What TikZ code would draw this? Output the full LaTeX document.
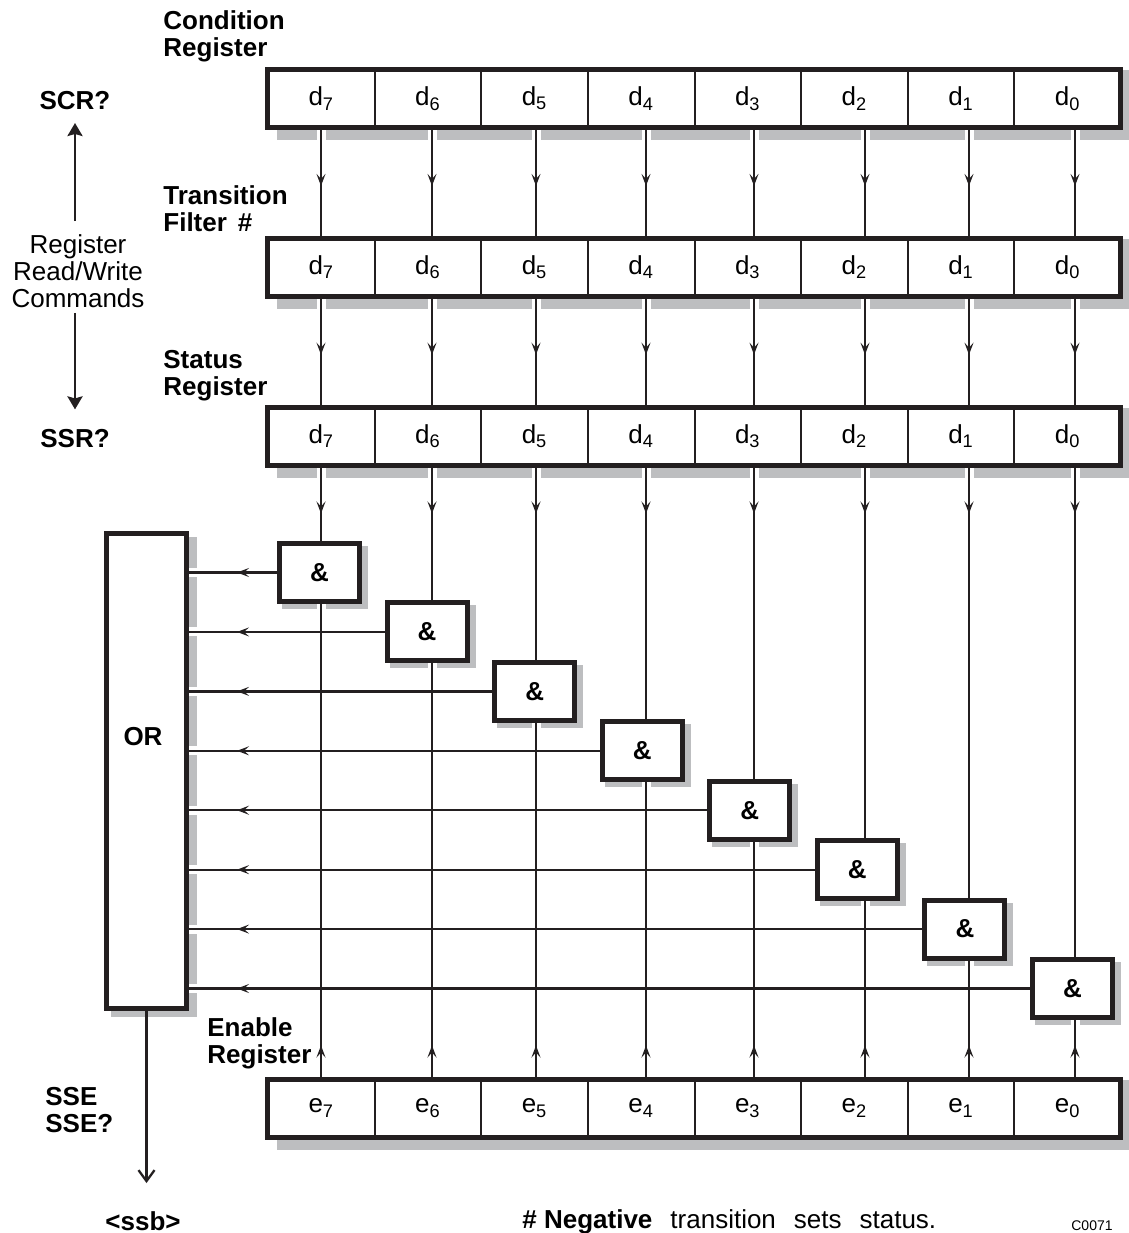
\documentclass[tikz,border=0pt]{standalone}
\usepackage{fontspec}
\setmainfont{Liberation Sans}
\usetikzlibrary{arrows.meta,decorations.markings}
\pgfdeclarelayer{shadowlayer}
\pgfdeclarelayer{halolayer}
\pgfsetlayers{shadowlayer,halolayer,main}
\definecolor{ink}{RGB}{35,31,32}
\definecolor{shadowgray}{RGB}{189,190,192}
\newcommand\mainsize{\fontsize{13}{13.5}\selectfont}
\tikzset{
  regbox/.style={draw=ink, line width=2.5pt, fill=white, minimum width=426.5pt, minimum height=29pt, inner sep=0pt},
  cellbox/.style={draw=ink, line width=1pt, minimum width=53.3125pt, minimum height=29pt, inner sep=0pt},
  gatebox/.style={draw=ink, line width=2.5pt, fill=white, minimum width=40pt, minimum height=29pt, inner sep=0pt, font=\mainsize\bfseries},
  orbox/.style={draw=ink, line width=2.5pt, fill=white, minimum width=40pt, minimum height=237.5pt, inner sep=0pt},
  conn/.style={draw=ink, line width=1.15pt},
  halo/.style={draw=white, line width=4.5pt},
  bigconn/.style={draw=ink, line width=1.3pt},
  midarrow/.style={postaction={decorate}, decoration={markings, mark=at position #1 with {\arrow{Stealth[length=6pt,width=4.5pt,inset=2.5pt]}}}},
  lbl/.style={anchor=north west, inner sep=0pt, align=left, font=\mainsize\bfseries},
  txt/.style={inner sep=0pt}
}
\begin{document}
\begin{tikzpicture}[x=0.5pt,y=-0.5pt, font=\mainsize]
\useasboundingbox (0,0) rectangle (1129,1233);
% registers
\node[regbox] (r1) at (694,98.5) {};
\node[regbox] (r2) at (694,267) {};
\node[regbox] (r3) at (694,436) {};
\node[regbox] (r4) at (694,1108) {};
\foreach \r/\c/\y in {r1/d/98.5, r2/d/267, r3/d/436, r4/e/1108} {
  \foreach \j in {0,...,7} {
    \pgfmathtruncatemacro\b{7-\j}
    \node[cellbox] (\r c\b) at ({321.3125+106.625*\j},\y) {\c\textsubscript{\b}};
  }
}
% gates
\foreach \j in {0,...,7} {
  \pgfmathtruncatemacro\b{7-\j}
  \node[gatebox] (g\b) at ({319.5+107.57*\j},{572.5+59.43*\j}) {\&};
}
\node[orbox] (orb) at (146.5,771) {};
\node[txt, font=\mainsize\bfseries] (ortxt) at (143,737) {OR};
% line positions
\foreach \b/\lx in {7/321,6/432,5/536,4/646,3/754,2/865,1/969,0/1075}
  \coordinate (L\b) at (\lx,0);
% shadows
\begin{pgfonlayer}{shadowlayer}
\foreach \n in {r1,r2,r3,r4}
  \fill[shadowgray] ([shift={(12,10)}]\n.south west) rectangle ([shift={(8,3)}]\n.north east);
\foreach \b in {0,...,7}
  \fill[shadowgray] ([shift={(5,5)}]g\b.south west) rectangle ([shift={(6,5)}]g\b.north east);
\fill[shadowgray] ([shift={(7,6)}]orb.south west) rectangle ([shift={(8,6)}]orb.north east);
\end{pgfonlayer}
% halos
\begin{pgfonlayer}{halolayer}
\foreach \b in {0,...,7} {
  \draw[halo] (L\b |- r1.south) -- (L\b |- r2.north);
  \draw[halo] (L\b |- r2.south) -- (L\b |- r3.north);
  \draw[halo] (L\b |- r3.south) -- (L\b |- g\b.north);
  \draw[halo] (L\b |- r4.north) -- (L\b |- g\b.south);
  \draw[halo] (g\b.west) -- (g\b.west -| orb.east);
}
\end{pgfonlayer}
% connectors
\foreach \b in {0,...,7} {
  \draw[conn, midarrow=0.53] (L\b |- r1.south) -- (L\b |- r2.north);
  \draw[conn, midarrow=0.53] (L\b |- r2.south) -- (L\b |- r3.north);
  \draw[conn, midarrow=23pt] (L\b |- r3.south) -- (L\b |- g\b.north);
  \draw[conn, midarrow=15.5pt] (L\b |- r4.north) -- (L\b |- g\b.south);
  \draw[conn, midarrow=-24pt] (g\b.west) -- (g\b.west -| orb.east);
}
% left side
\node[txt, font=\mainsize\bfseries] (scr) at (75,101) {SCR?};
\node[txt, align=center] (rrw) at (78,271) {Register\\Read/Write\\Commands};
\node[txt, font=\mainsize\bfseries] (ssr) at (75,439) {SSR?};
\draw[bigconn, -{Stealth[length=6.5pt,width=7.5pt,inset=1pt]}, shorten <=6.5pt, shorten >=6.2pt] (rrw.north -| scr.south) -- (scr.south);
\draw[bigconn, -{Stealth[length=6.5pt,width=7.5pt,inset=1pt]}, shorten <=2.5pt, shorten >=10pt] (rrw.south -| ssr.north) -- (ssr.north);
% output
\node[txt, font=\mainsize\bfseries] (ssb) at (143,1221) {<ssb>};
\draw[conn, -{Straight Barb[length=5.5pt,width=8pt]}, shorten >=14pt] (orb.south) -- (orb.south |- ssb.north);
% labels
\node[lbl] (cond) at (163,10) {Condition\\Register};
\node[lbl] (trans) at (163,185) {Transition\\Filter\hspace{5.5pt}\#};
\node[lbl] (stat) at (163,350) {Status\\Register};
\node[lbl] (enab) at (207,1017) {Enable\\Register};
\node[lbl] (sse) at (45,1087) {SSE\\SSE?};
\node[anchor=base west, inner sep=0pt, font=\fontsize{13}{15}\selectfont] (note) at (522,1228) {\textbf{\# Negative}\hspace{9pt}transition\hspace{9pt}sets\hspace{9pt}status.};
\node[txt, font=\fontsize{7}{8}\selectfont] (code) at (1092,1226) {C0071};
\end{tikzpicture}
\end{document}
